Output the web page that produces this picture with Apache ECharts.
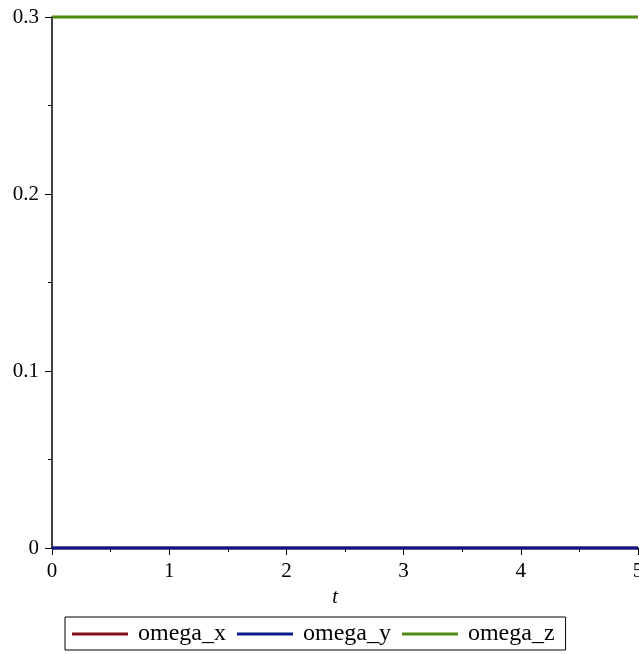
<!DOCTYPE html>
<html>
<head>
<meta charset="utf-8">
<script src="https://cdn.jsdelivr.net/npm/echarts@6/dist/echarts.min.js"></script>
<style>html,body{margin:0;padding:0;background:#fff}#c{width:639px;height:654px}</style>
</head>
<body>
<div id="c"></div>
<script>
const tValues = [0, 1, 2, 3, 4, 5];
const omegaX = [0, 0, 0, 0, 0, 0];
const omegaY = [0, 0, 0, 0, 0, 0];
const omegaZ = [0.3, 0.3, 0.3, 0.3, 0.3, 0.3];
const seriesNames = ['omega_x', 'omega_y', 'omega_z'];
const seriesColors = ['#7f0f1a', '#0a1a8c', '#508a10'];

const pairs = (ys) => tValues.map((t, i) => [t, ys[i]]);
const font = 'Liberation Serif';

const chart = echarts.init(document.getElementById('c'), null, {renderer: 'canvas'});
chart.setOption({
  animation: false,
  backgroundColor: '#fff',
  grid: {left: 52, right: 1, top: 17, bottom: 106, containLabel: false, outerBoundsMode: 'none'},
  xAxis: {
    type: 'value', min: 0, max: 5, interval: 1,
    name: 't', nameLocation: 'middle', nameGap: 40,
    nameTextStyle: {fontFamily: font, fontStyle: 'italic', fontSize: 20, color: '#000', padding: [0, 20, 0, 0]},
    axisLine: {show: true, onZero: false, lineStyle: {color: '#000', width: 1.5}},
    axisTick: {show: true, length: 7, lineStyle: {color: '#000'}},
    minorTick: {show: true, splitNumber: 2, length: 4, lineStyle: {color: '#000'}},
    axisLabel: {fontFamily: font, fontSize: 21, color: '#000', margin: 13, showMaxLabel: true},
    splitLine: {show: false}
  },
  yAxis: {
    type: 'value', min: 0, max: 0.3, interval: 0.1,
    axisLine: {show: true, lineStyle: {color: '#000', width: 1.5}},
    axisTick: {show: true, length: 7, lineStyle: {color: '#000'}},
    minorTick: {show: true, splitNumber: 2, length: 4, lineStyle: {color: '#000'}},
    axisLabel: {fontFamily: font, fontSize: 21, color: '#000', margin: 13,
      formatter: v => v === 0 ? '0' : v.toFixed(1)},
    splitLine: {show: false}
  },
  legend: {
    left: 65, top: 617,
    data: seriesNames,
    icon: 'rect', itemWidth: 56, itemHeight: 3, itemGap: 11,
    textStyle: {fontFamily: font, fontSize: 24, color: '#000', padding: [0, 0, 0, 5]},
    borderColor: '#000', borderWidth: 1, padding: [5, 11, 4, 7]
  },
  series: seriesNames.map((n, i) => ({
    name: n, type: 'line', showSymbol: false, symbol: 'none',
    data: pairs([omegaX, omegaY, omegaZ][i]),
    lineStyle: {color: seriesColors[i], width: 3},
    itemStyle: {color: seriesColors[i]},
    clip: false
  }))
});
</script>
</body>
</html>
